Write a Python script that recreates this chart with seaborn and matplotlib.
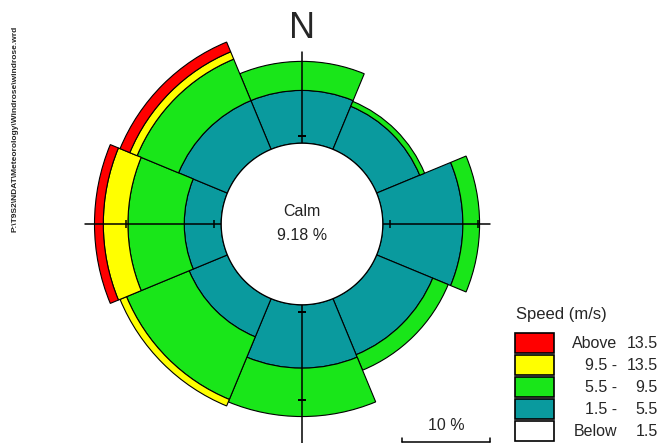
import numpy as np
import pandas as pd
import seaborn as sns
import matplotlib
matplotlib.use("Agg")
import matplotlib.pyplot as plt
from matplotlib.patches import Rectangle
from matplotlib.lines import Line2D

# wind rose data, % of hours per direction and speed class
directions = ["N", "NE", "E", "SE", "S", "SW", "W", "NW"]
dir_deg = [0, 45, 90, 135, 180, 225, 270, 315]
calm = 9.18
spd_1_5 = [6.0, 5.3, 9.1, 6.9, 7.2, 4.7, 4.2, 6.0]
spd_5_9 = [3.3, 0.6, 1.9, 1.9, 5.5, 7.7, 6.4, 5.1]
spd_9_13 = [0.0, 0.0, 0.0, 0.0, 0.0, 0.8, 2.8, 0.9]
spd_13 = [0.0, 0.0, 0.0, 0.0, 0.0, 0.0, 1.0, 1.2]

legend_pre = ["Above", "9.5 -", "5.5 -", "1.5 -", "Below"]
legend_num = ["13.5", "13.5", "9.5", "5.5", "1.5"]
legend_cols = ["#FF0000", "#FFFF00", "#19E619", "#0A9A9E", "#FFFFFF"]
source_path = "P:\\T9S2\\NDAT\\Meteorology\\Windrose\\windrose.wrd"

sns.set_theme(style="white")
plt.rcParams['font.family'] = ['Liberation Sans', 'DejaVu Sans']

df = pd.DataFrame({"dir": directions, "deg": dir_deg,
                   "1.5 - 5.5": spd_1_5, "5.5 - 9.5": spd_5_9,
                   "9.5 - 13.5": spd_9_13, "Above 13.5": spd_13})
bins = ["1.5 - 5.5", "5.5 - 9.5", "9.5 - 13.5", "Above 13.5"]
bin_cols = dict(zip(bins, legend_cols[3::-1]))

W, H = 661, 443
def fx(x):
    return x / W
def fy(y):
    return 1 - y / H

fig = plt.figure(figsize=(W / 100, H / 100), dpi=100)
cx, cy = 302, 224
rmax = 24.0
R = rmax * 8.8
ax = fig.add_axes([(cx - R) / W, (H - cy - R) / H, 2 * R / W, 2 * R / H],
                  projection="polar")
ax.set_theta_zero_location("N")
ax.set_theta_direction(-1)
ax.set_ylim(0, rmax)
ax.set_axis_off()

theta = np.deg2rad(df["deg"].to_numpy())
bottom = np.full(len(df), calm)
for b in bins:
    vals = df[b].to_numpy()
    m = vals > 0
    ax.bar(theta[m], vals[m], width=np.pi / 4, bottom=bottom[m],
           color=bin_cols[b], edgecolor="black", linewidth=0.8, zorder=2)
    bottom = bottom + vals

# compass cross
for t, r in [(0, 19.6), (np.pi / 2, 21.4), (np.pi, 25.5), (3 * np.pi / 2, 24.7)]:
    ax.plot([t, t], [0, r], color="black", lw=1.1, zorder=3, clip_on=False)
ax.plot([np.pi / 2, np.pi / 2, 3 * np.pi / 2, 3 * np.pi / 2], [10, 20, 10, 20],
        ls="none", marker="|", ms=6, mew=1.1, color="black", zorder=3)
ax.plot([0, np.pi, np.pi], [10, 10, 20], ls="none", marker="_", ms=6, mew=1.1,
        color="black", zorder=3)

# calm circle
tt = np.linspace(0, 2 * np.pi, 400)
ax.fill(tt, np.full_like(tt, calm), facecolor="white", edgecolor="black",
        lw=0.9, zorder=4)

fig.text(fx(cx), fy(212), "Calm", ha="center", va="center", fontsize=11.5, color="#222222")
fig.text(fx(cx), fy(236), f"{calm:.2f} %", ha="center", va="center", fontsize=11.5, color="#222222")
fig.text(fx(cx), fy(29), "N", ha="center", va="center", fontsize=26)

# legend
fig.text(fx(516), fy(314), "Speed (m/s)", ha="left", va="center", fontsize=12)
for i, (pre, num, col) in enumerate(zip(legend_pre, legend_num, legend_cols)):
    top = 333 + 22 * i
    fig.patches.append(Rectangle((fx(515), fy(top + 20)), 39 / W, 20 / H,
                                 transform=fig.transFigure, facecolor=col,
                                 edgecolor="black", lw=1.2))
    fig.text(fx(617), fy(top + 10), pre, ha="right", va="center", fontsize=11.5)
    fig.text(fx(658), fy(top + 10), num, ha="right", va="center", fontsize=11.5)

# scale bar, 10 %
p0 = ax.transData.transform((0, 0))
p1 = ax.transData.transform((np.pi / 2, 10))
L = p1[0] - p0[0]
x1, x0, yb = 490, 490 - L, 442
fig.lines.append(Line2D([fx(x0), fx(x1)], [fy(yb), fy(yb)], transform=fig.transFigure,
                        color="black", lw=1.1))
for xe in (x0, x1):
    fig.lines.append(Line2D([fx(xe), fx(xe)], [fy(yb), fy(yb - 4)], transform=fig.transFigure,
                            color="black", lw=1.1))
fig.text(fx((x0 + x1) / 2), fy(426), "10 %", ha="center", va="center", fontsize=11.5)

fig.text(fx(15), fy(129), source_path, rotation=90, ha="center", va="center",
         fontsize=6, fontweight="bold")

fig.savefig("out.png", dpi=100)
